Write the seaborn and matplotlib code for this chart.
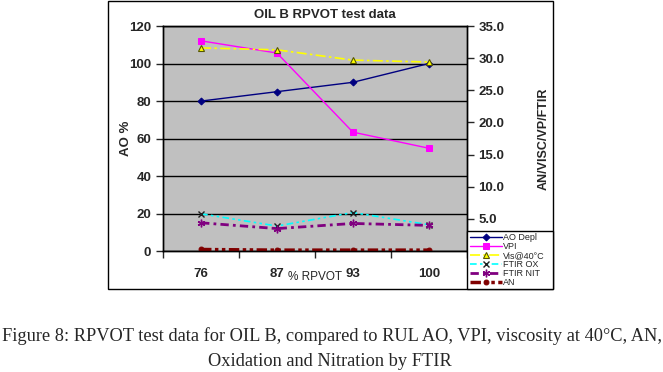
import pandas as pd
import numpy as np
import seaborn as sns
import matplotlib
import matplotlib.pyplot as plt
from matplotlib.patches import Rectangle

matplotlib.use("Agg")

# data
rpvot = ["76", "87", "93", "100"]
ao_depl = [80, 85, 90, 100]          # left axis
vpi = [32.7, 30.8, 18.5, 16.0]       # right axis
visc40 = [31.6, 31.3, 29.7, 29.4]
ftir_ox = [5.8, 3.9, 6.0, 4.1]
ftir_nit = [4.4, 3.5, 4.3, 4.0]
an = [0.25, 0.15, 0.15, 0.15]

df = pd.DataFrame({"rpvot": rpvot, "ao": ao_depl, "vpi": vpi, "visc": visc40,
                   "ox": ftir_ox, "nit": ftir_nit, "an": an})

sns.set_style("white")
plt.rcParams["font.family"] = ["Liberation Sans", "DejaVu Sans"]

fig = plt.figure(figsize=(6.63, 3.72), dpi=100)
fig.patch.set_facecolor("white")

# outer chart frame
fig.patches.append(Rectangle((0.163, 0.222), 0.671, 0.774, transform=fig.transFigure,
                             fill=False, edgecolor="black", lw=1.0, zorder=0))

ax = fig.add_axes([0.246, 0.325, 0.458, 0.605])
ax.set_facecolor("#C0C0C0")
ax2 = ax.twinx()

sns.lineplot(data=df, x="rpvot", y="ao", ax=ax, color="#000080", lw=1, marker="D",
             markersize=3.5, mec="#000080", mfc="#000080", label="AO Depl", legend=False)
sns.lineplot(data=df, x="rpvot", y="vpi", ax=ax2, color="#FF00FF", lw=1, marker="s",
             markersize=5, mec="#FF00FF", mfc="#FF00FF", label="VPI", legend=False)
sns.lineplot(data=df, x="rpvot", y="visc", ax=ax2, color="#FFFF00", lw=1.2, marker="^",
             markersize=4.5, mec="#555500", mfc="#FFFF00", mew=0.8, dashes=(6, 2, 1.5, 2),
             label="Vis@40°C", legend=False)
sns.lineplot(data=df, x="rpvot", y="ox", ax=ax2, color="#00FFFF", lw=1.2, marker="x",
             markersize=4, mec="#202020", mew=1, dashes=(4, 2, 1.5, 2, 1.5, 2),
             label="FTIR OX", legend=False)
sns.lineplot(data=df, x="rpvot", y="nit", ax=ax2, color="#800080", lw=2, marker=(6, 2, 0),
             markersize=5.5, mec="#800080", mew=1, dashes=(3, 1.5, 1, 1.5),
             label="FTIR NIT", legend=False)
sns.lineplot(data=df, x="rpvot", y="an", ax=ax2, color="#800000", lw=2.5, marker="o",
             markersize=3.5, mec="#800000", mfc="#800000", dashes=(3, 1, 1, 1, 1, 1),
             label="AN", legend=False)

ax.set_xlim(-0.5, 3.5)
ax.set_ylim(0, 120)
ax.set_yticks(np.arange(0, 121, 20))
ax2.set_ylim(0, 35)
ax2.set_yticks(np.arange(5, 36, 5))
ax2.set_yticklabels([f"{v:.1f}" for v in np.arange(5, 36, 5)])

# tick marks between categories, labels at centres
ax.set_xticks(np.arange(-0.5, 3.6, 1))
ax.set_xticklabels([])
ax.set_xticks(np.arange(4), minor=True)
ax.set_xticklabels(rpvot, minor=True)
ax.tick_params(axis="x", which="major", direction="out", length=5, width=1, bottom=True)
ax.tick_params(axis="x", which="minor", length=0, pad=12, labelsize=9.5)
for lab in ax.get_xticklabels(minor=True):
    lab.set_fontweight("bold")

ax.tick_params(axis="y", direction="out", length=5, width=1, left=True, labelsize=9.5)
ax2.tick_params(axis="y", direction="out", length=5, width=1, right=True, labelsize=9.5)
for lab in ax.get_yticklabels() + ax2.get_yticklabels():
    lab.set_fontweight("bold")

ax.grid(axis="y", color="black", lw=1)
ax.set_axisbelow(True)
for sp in list(ax.spines.values()) + list(ax2.spines.values()):
    sp.set_color("black")
    sp.set_linewidth(1)

ax.set_xlabel("% RPVOT", fontsize=8.5, labelpad=-6)
ax.set_ylabel("AO %", fontsize=9.5, fontweight="bold", labelpad=-2)
ax2.set_ylabel("AN/VISC/VP/FTIR", fontsize=9, fontweight="bold", labelpad=24)
fig.text(0.49, 0.96, "OIL B RPVOT test data", ha="center", va="center",
         fontsize=9.5, fontweight="bold")

h1, l1 = ax.get_legend_handles_labels()
h2, l2 = ax2.get_legend_handles_labels()
leg = fig.legend(h1 + h2, l1 + l2, loc="lower left",
                 bbox_to_anchor=(0.705, 0.222, 0.129, 0.165), mode="expand",
                 fontsize=6.5, frameon=True, fancybox=False, edgecolor="black",
                 handlelength=3.6, handletextpad=0.1, labelspacing=0.0,
                 borderpad=0.25, borderaxespad=0)
leg.get_frame().set_linewidth(1)
leg.get_frame().set_alpha(1)

serif = ["Liberation Serif", "DejaVu Serif"]
fig.text(0.5, 0.0833, "Figure 8: RPVOT test data for OIL B, compared to RUL AO, VPI, viscosity at 40°C, AN,",
         ha="center", va="baseline", fontsize=13.2, family=serif)
fig.text(0.498, 0.0161, "Oxidation and Nitration by FTIR",
         ha="center", va="baseline", fontsize=13.2, family=serif)

fig.savefig("out.png", dpi=100)
plt.close(fig)
